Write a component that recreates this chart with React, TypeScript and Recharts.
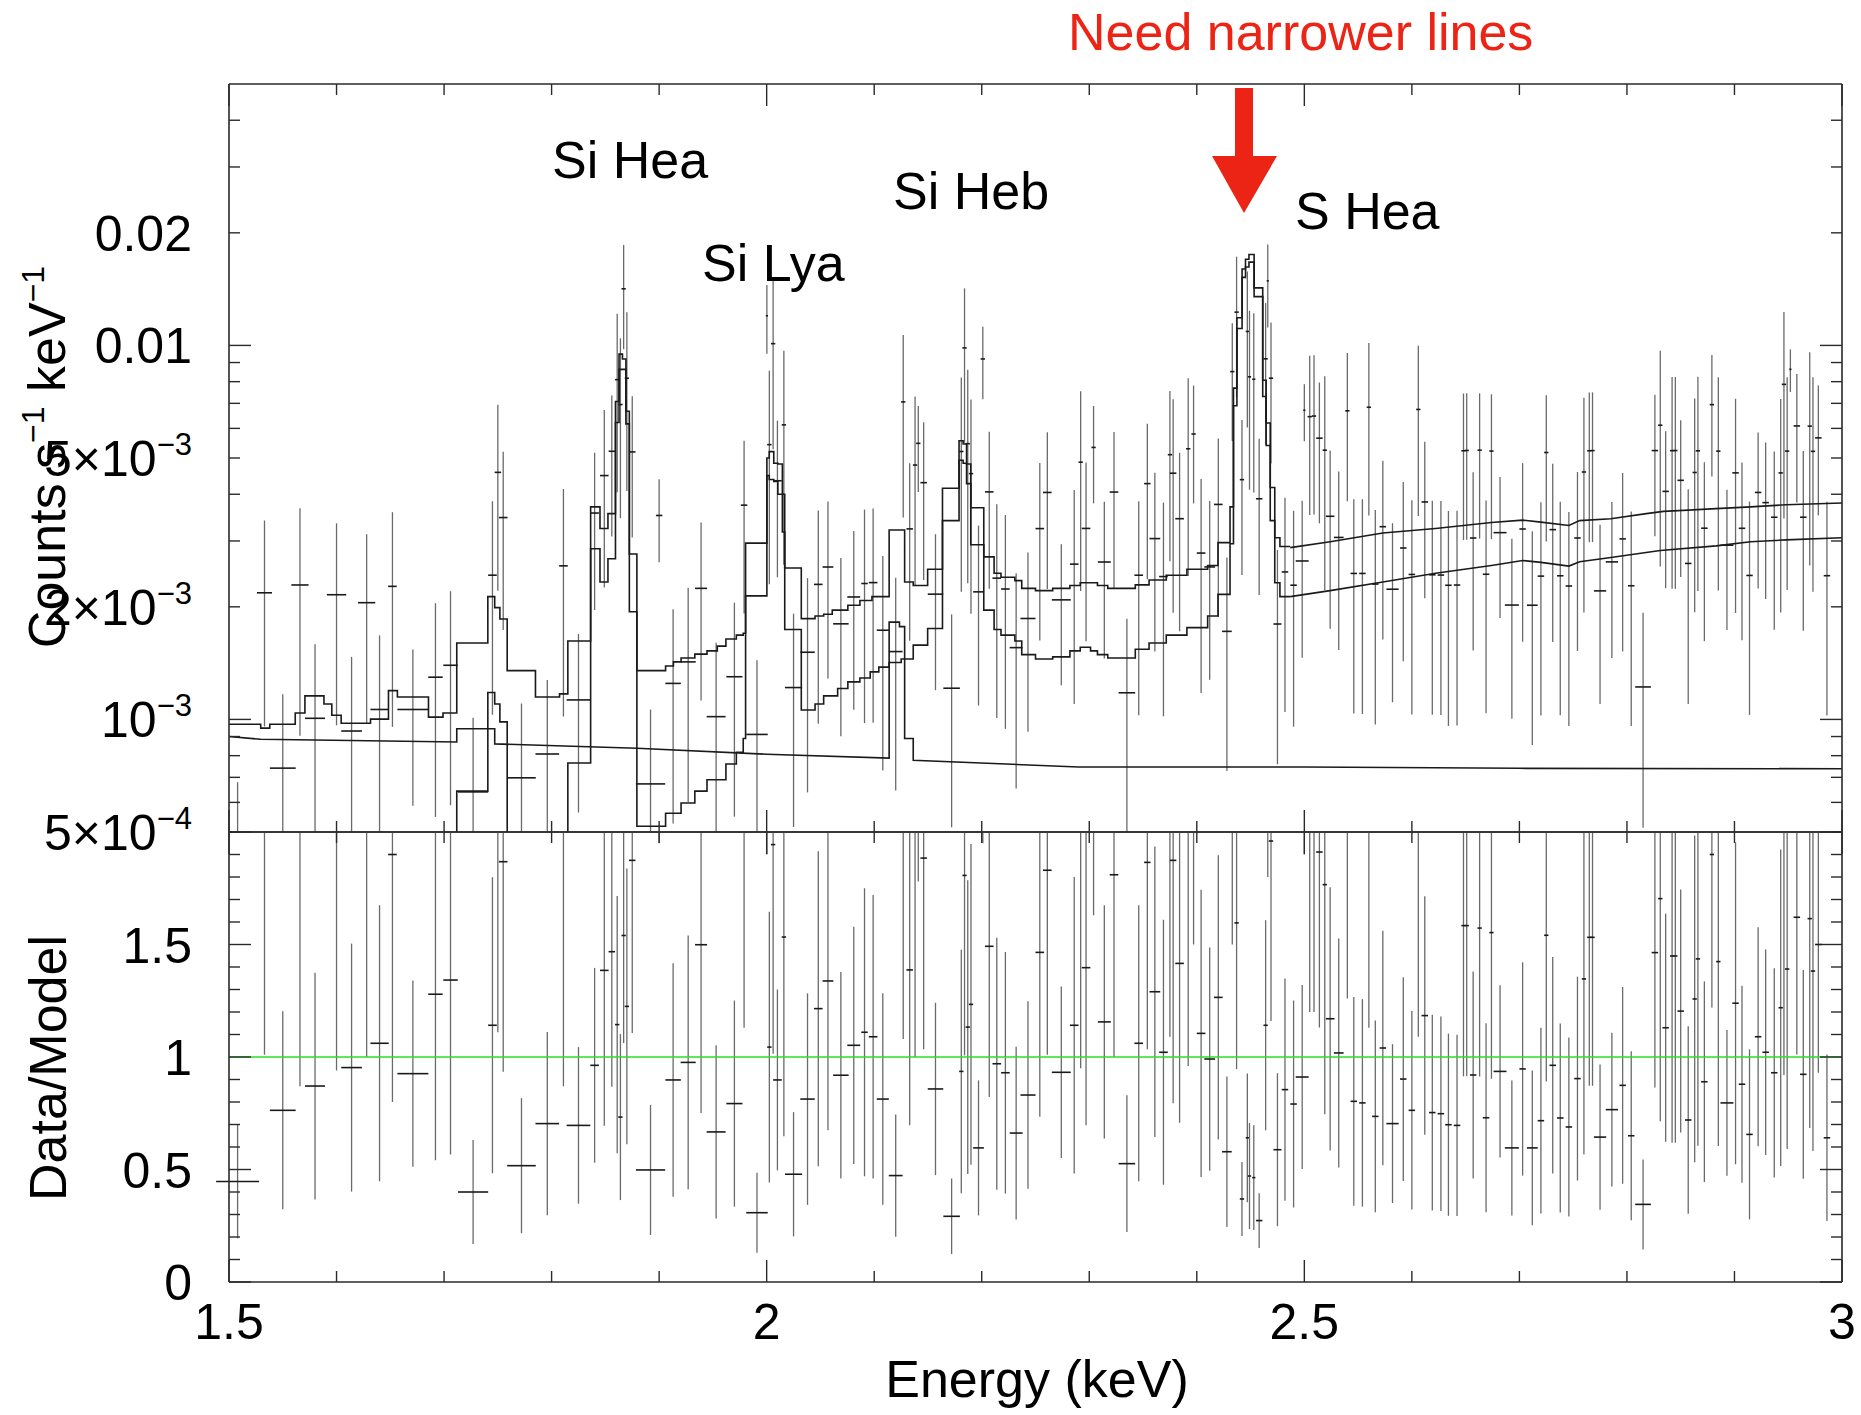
import React from "react";
import { ComposedChart, Line, Scatter, ErrorBar, XAxis, YAxis, ReferenceLine } from "recharts";

// ---- model: total (step part, bin low edges) ----
const totalStepE = [1.5, 1.5295, 1.5379, 1.5616, 1.5706, 1.5883, 1.5956, 1.6043, 1.6316, 1.6483, 1.6566, 1.6855, 1.699, 1.7118, 1.7407, 1.7471, 1.7519, 1.7587, 1.785, 1.8074, 1.8151, 1.8363, 1.845, 1.8524, 1.8594, 1.8627, 1.8659, 1.8691, 1.8723, 1.8793, 1.906, 1.9133, 1.9204, 1.9332, 1.9445, 1.9541, 1.9621, 1.9718, 1.9782, 1.9804, 2.0002, 2.0024, 2.0066, 2.0104, 2.0146, 2.0168, 2.0322, 2.045, 2.053, 2.061, 2.0755, 2.0867, 2.0979, 2.1139, 2.1283, 2.1363, 2.1497, 2.1635, 2.1789, 2.1827, 2.1859, 2.1898, 2.2019, 2.2115, 2.2179, 2.2308, 2.2372, 2.25, 2.266, 2.282, 2.2916, 2.3076, 2.3172, 2.3428, 2.3556, 2.3716, 2.3908, 2.4101, 2.4197, 2.4309, 2.4341, 2.4373, 2.4421, 2.4453, 2.4485, 2.4533, 2.4613, 2.4645, 2.4683, 2.4725, 2.4773];
const totalStepV = [9.71e-4, 9.48e-4, 9.71e-4, 1.04e-3, 1.156e-3, 1.1e-3, 1.026e-3, 9.77e-4, 1.002e-3, 1.194e-3, 1.148e-3, 1.014e-3, 1.04e-3, 1.6e-3, 2.13e-3, 1.99e-3, 1.855e-3, 1.35e-3, 1.148e-3, 1.17e-3, 1.62e-3, 3.7e-3, 3.24e-3, 3.55e-3, 7.08e-3, 9.48e-3, 9.2e-3, 6.67e-3, 2.77e-3, 1.35e-3, 1.39e-3, 1.425e-3, 1.46e-3, 1.495e-3, 1.525e-3, 1.57e-3, 1.64e-3, 1.68e-3, 1.7e-3, 2.96e-3, 5.0e-3, 5.2e-3, 4.84e-3, 4.82e-3, 4.0e-3, 2.54e-3, 1.86e-3, 1.89e-3, 1.91e-3, 1.96e-3, 2.02e-3, 2.08e-3, 2.13e-3, 3.21e-3, 2.33e-3, 2.28e-3, 2.52e-3, 4.15e-3, 5.56e-3, 5.45e-3, 4.82e-3, 3.68e-3, 2.72e-3, 2.46e-3, 2.4e-3, 2.35e-3, 2.24e-3, 2.21e-3, 2.24e-3, 2.28e-3, 2.32e-3, 2.28e-3, 2.24e-3, 2.29e-3, 2.36e-3, 2.43e-3, 2.52e-3, 2.58e-3, 2.97e-3, 3.7e-3, 7.69e-3, 0.01186, 0.016, 0.017, 0.0175, 0.01425, 8.07e-3, 6.2e-3, 4.17e-3, 3.06e-3, 2.9e-3];
// total, smooth tail above 2.49 keV
const totalTailE = [2.4869, 2.524, 2.573, 2.622, 2.674, 2.703, 2.72, 2.746, 2.756, 2.785, 2.818, 2.834, 2.883, 2.915, 2.948, 3.0];
const totalTailV = [2.88e-3, 2.985e-3, 3.15e-3, 3.24e-3, 3.36e-3, 3.41e-3, 3.37e-3, 3.3e-3, 3.4e-3, 3.44e-3, 3.55e-3, 3.6e-3, 3.66e-3, 3.7e-3, 3.75e-3, 3.79e-3];

// ---- line-rich component ----
const lineStepE = [1.5, 1.7118, 1.7407, 1.7471, 1.7519, 1.7587, 1.785, 1.8151, 1.8363, 1.845, 1.8524, 1.8594, 1.8627, 1.8659, 1.8691, 1.8723, 1.8793, 1.906, 1.9204, 1.9332, 1.9445, 1.9621, 1.9718, 1.9782, 1.9804, 2.0002, 2.0024, 2.0066, 2.0104, 2.0146, 2.0168, 2.0322, 2.045, 2.053, 2.066, 2.0755, 2.0867, 2.0963, 2.1043, 2.1139, 2.1251, 2.1363, 2.1497, 2.1635, 2.1789, 2.1827, 2.1859, 2.1898, 2.2019, 2.2115, 2.2179, 2.2308, 2.2372, 2.25, 2.266, 2.282, 2.2916, 2.3012, 2.3076, 2.3172, 2.3428, 2.3556, 2.3716, 2.3908, 2.4101, 2.4197, 2.4309, 2.4341, 2.4373, 2.4421, 2.4453, 2.4485, 2.4533, 2.4613, 2.4645, 2.4683, 2.4725, 2.4773];
const lineStepV = [1e-4, 6.43e-4, 1.18e-3, 1.1e-3, 9.85e-4, 4.8e-4, 3e-4, 7.65e-4, 2.86e-3, 2.33e-3, 2.69e-3, 6.22e-3, 8.63e-3, 8.63e-3, 6.17e-3, 1.94e-3, 5.18e-4, 5.61e-4, 5.98e-4, 6.43e-4, 6.9e-4, 7.6e-4, 8.17e-4, 8.89e-4, 2.14e-3, 4.49e-3, 4.38e-3, 4.33e-3, 4.0e-3, 3.17e-3, 1.74e-3, 1.06e-3, 1.1e-3, 1.156e-3, 1.21e-3, 1.26e-3, 1.29e-3, 1.34e-3, 1.38e-3, 1.42e-3, 1.45e-3, 1.58e-3, 1.75e-3, 3.4e-3, 4.93e-3, 4.84e-3, 4.27e-3, 2.93e-3, 1.96e-3, 1.74e-3, 1.68e-3, 1.62e-3, 1.49e-3, 1.45e-3, 1.47e-3, 1.525e-3, 1.56e-3, 1.525e-3, 1.49e-3, 1.46e-3, 1.54e-3, 1.6e-3, 1.68e-3, 1.76e-3, 1.89e-3, 2.16e-3, 2.95e-3, 6.9e-3, 0.0111, 0.0152, 0.0162, 0.0167, 0.0135, 7.3e-3, 5.4e-3, 3.4e-3, 2.32e-3, 2.13e-3];
const lineTailE = [2.4869, 2.524, 2.573, 2.622, 2.674, 2.703, 2.72, 2.746, 2.756, 2.785, 2.831, 2.883, 2.915, 2.948, 3.0];
const lineTailV = [2.13e-3, 2.21e-3, 2.33e-3, 2.46e-3, 2.58e-3, 2.66e-3, 2.63e-3, 2.57e-3, 2.64e-3, 2.71e-3, 2.83e-3, 2.91e-3, 2.985e-3, 3.02e-3, 3.06e-3];

// ---- continuum component ----
const contE = [1.5, 1.5295, 1.7118, 1.7118, 1.7471, 1.7471, 1.8793, 2.0, 2.1139, 2.1139, 2.1235, 2.1235, 2.1283, 2.1283, 2.1363, 2.1363, 2.29, 2.5, 2.7, 3.0];
const contV = [9.0e-4, 8.85e-4, 8.7e-4, 9.44e-4, 9.44e-4, 8.6e-4, 8.37e-4, 8.07e-4, 7.88e-4, 1.82e-3, 1.82e-3, 1.77e-3, 1.77e-3, 8.89e-4, 8.89e-4, 7.78e-4, 7.46e-4, 7.46e-4, 7.4e-4, 7.38e-4];

// ---- data bins: centre energy, half width, data/model ratio, 1 sigma ----
const ptE = [
  1.508, 1.533, 1.55, 1.566, 1.58, 1.6, 1.614, 1.628, 1.64, 1.652, 1.671, 1.692, 1.706, 1.727, 1.745, 1.75, 1.755, 1.772, 1.796, 1.811, 1.825, 1.84, 1.849, 1.856, 1.861, 1.864, 1.867, 1.87, 1.875, 1.892, 1.9, 1.913, 1.927, 1.939, 1.953, 1.97, 1.979, 1.991,
  2.0002, 2.0025, 2.006, 2.01, 2.016, 2.025, 2.038, 2.048, 2.057, 2.069, 2.081, 2.091, 2.099, 2.108, 2.12, 2.127, 2.133, 2.138, 2.141, 2.146, 2.157, 2.172, 2.181, 2.184, 2.187, 2.19, 2.197, 2.201, 2.207, 2.214, 2.222, 2.232, 2.243, 2.254, 2.261, 2.274, 2.286, 2.292, 2.297, 2.304, 2.314, 2.323, 2.335, 2.346, 2.354, 2.361, 2.369, 2.375, 2.378, 2.384, 2.392, 2.397, 2.404, 2.412, 2.42, 2.428, 2.433, 2.437, 2.442, 2.447, 2.449, 2.453, 2.458, 2.464, 2.466, 2.469, 2.475, 2.482, 2.49,
  2.498, 2.5, 2.505, 2.509, 2.514, 2.519, 2.524, 2.532, 2.54, 2.546, 2.554, 2.56, 2.566, 2.573, 2.582, 2.592, 2.6, 2.606, 2.612, 2.619, 2.627, 2.634, 2.642, 2.648, 2.651, 2.657, 2.663, 2.669, 2.674, 2.682, 2.693, 2.703, 2.712, 2.72, 2.725, 2.731, 2.738, 2.746, 2.754, 2.76, 2.765, 2.768, 2.775, 2.786, 2.796, 2.804, 2.815, 2.826, 2.831, 2.836, 2.842, 2.845, 2.85, 2.857, 2.863, 2.866, 2.872, 2.879, 2.885, 2.893, 2.901, 2.907, 2.914, 2.922, 2.929, 2.937, 2.943, 2.946, 2.949, 2.952, 2.958, 2.964, 2.97, 2.973, 2.978, 2.986,
];
const ptHw = [
  0.02, 0.007, 0.012, 0.008, 0.0093, 0.009, 0.0096, 0.008, 0.0085, 0.004, 0.0144, 0.0067, 0.0067, 0.014, 0.004, 0.003, 0.004, 0.0133, 0.011, 0.004, 0.011, 0.004, 0.004, 0.003, 0.002, 0.002, 0.002, 0.002, 0.003, 0.0136, 0.003, 0.0072, 0.007, 0.0056, 0.0088, 0.0075, 0.003, 0.01,
  0.001, 0.002, 0.002, 0.004, 0.002, 0.008, 0.0067, 0.004, 0.005, 0.0072, 0.006, 0.003, 0.004, 0.0056, 0.0064, 0.002, 0.003, 0.002, 0.002, 0.003, 0.0072, 0.0077, 0.002, 0.002, 0.002, 0.002, 0.005, 0.002, 0.004, 0.004, 0.004, 0.006, 0.007, 0.004, 0.004, 0.0088, 0.004, 0.002, 0.004, 0.002, 0.006, 0.004, 0.0077, 0.004, 0.003, 0.005, 0.004, 0.002, 0.003, 0.004, 0.002, 0.002, 0.004, 0.005, 0.004, 0.0045, 0.002, 0.002, 0.002, 0.0015, 0.0015, 0.0015, 0.003, 0.002, 0.001, 0.002, 0.0037, 0.003, 0.003,
  0.006, 0.001, 0.002, 0.002, 0.003, 0.002, 0.004, 0.0045, 0.002, 0.003, 0.003, 0.002, 0.003, 0.003, 0.0057, 0.003, 0.003, 0.002, 0.003, 0.003, 0.003, 0.003, 0.003, 0.002, 0.002, 0.003, 0.002, 0.003, 0.002, 0.006, 0.0065, 0.003, 0.005, 0.003, 0.002, 0.003, 0.003, 0.003, 0.003, 0.002, 0.002, 0.002, 0.0057, 0.0057, 0.003, 0.003, 0.0073, 0.003, 0.002, 0.003, 0.002, 0.002, 0.003, 0.003, 0.002, 0.002, 0.003, 0.002, 0.002, 0.006, 0.003, 0.003, 0.003, 0.003, 0.003, 0.003, 0.002, 0.002, 0.002, 0.001, 0.003, 0.003, 0.002, 0.002, 0.003, 0.003,
];
const ptRatio = [
  0.447, 2.3, 0.763, 2.2, 0.871, 2.1, 0.953, 2.1, 1.061, 1.9, 0.926, 1.279, 1.342, 0.4, 1.141, 2.3, 1.868, 0.517, 0.704, 2.2, 0.696, 0.963, 1.385, 1.468, 1.144, 0.733, 1.54, 1.225, 1.874, 0.498, 2.6, 0.898, 0.976, 1.499, 0.667, 0.793, 2.2, 0.308,
  2.4, 1.044, 1.944, 0.898, 1.533, 0.479, 0.813, 1.215, 1.338, 0.919, 1.052, 1.11, 1.09, 0.813, 0.473, 2.2, 1.387, 2.1, 2.4, 1.884, 0.858, 0.292, 0.936, 1.807, 1.133, 1.234, 0.596, 2.5, 1.492, 0.97, 0.93, 0.662, 0.831, 1.465, 1.83, 0.932, 1.141, 2.1, 1.397, 2.3, 1.156, 1.81, 0.526, 1.061, 1.865, 1.29, 1.021, 2.1, 1.874, 1.416, 2.1, 2.3, 1.105, 0.991, 1.265, 0.579, 2.3, 1.596, 0.369, 0.641, 0.471, 0.464, 0.273, 1.141, 2.4, 1.96, 0.588, 0.855, 0.791,
  0.911, 2.3, 2.2, 2.2, 1.911, 1.766, 1.17, 1.018, 2.2, 0.803, 0.796, 2.2, 0.736, 1.04, 0.704, 0.902, 0.763, 2.1, 1.184, 0.753, 0.748, 0.699, 0.696, 1.584, 1.584, 0.92, 1.573, 0.73, 1.553, 0.936, 0.596, 0.947, 0.596, 0.717, 1.541, 0.963, 0.729, 0.689, 0.904, 1.347, 1.532, 1.532, 0.644, 0.766, 0.874, 0.65, 0.345, 1.464, 1.704, 1.13, 1.449, 1.449, 1.204, 0.72, 1.258, 1.436, 0.89, 1.9, 1.424, 0.796, 1.239, 0.879, 0.656, 1.09, 1.021, 0.93, 1.219, 2.1, 1.391, 2.3, 1.621, 0.923, 1.615, 1.382, 1.5, 0.641,
];
const ptErr = [
  0.253, 1.29, 0.44, 1.33, 0.504, 1.16, 0.551, 1.1, 0.613, 1.1, 0.414, 0.738, 0.775, 0.231, 0.658, 1.19, 0.933, 0.3, 0.407, 1.33, 0.348, 0.433, 0.69, 0.6, 0.572, 0.369, 0.478, 0.613, 0.767, 0.289, 0.65, 0.519, 0.564, 0.748, 0.385, 0.458, 1.07, 0.178,
  0.5, 0.602, 0.93, 0.402, 0.885, 0.276, 0.47, 0.7, 0.664, 0.459, 0.527, 0.64, 0.63, 0.47, 0.272, 1.12, 0.69, 1.1, 0.62, 0.85, 0.383, 0.168, 0.541, 0.8, 0.653, 0.713, 0.3, 0.55, 0.67, 0.56, 0.537, 0.384, 0.417, 0.73, 0.82, 0.381, 0.659, 1.15, 0.7, 0.67, 0.518, 0.81, 0.304, 0.613, 0.83, 0.646, 0.589, 1.01, 1.08, 0.708, 1.14, 0.8, 0.638, 0.496, 0.632, 0.334, 0.8, 0.65, 0.164, 0.286, 0.236, 0.233, 0.122, 0.467, 0.6, 0.8, 0.34, 0.494, 0.46,
  0.409, 0.4, 1.0, 1.0, 0.78, 1.02, 0.585, 0.509, 0.94, 0.464, 0.461, 1.07, 0.426, 0.521, 0.353, 0.453, 0.441, 1.01, 0.53, 0.435, 0.432, 0.405, 0.403, 0.67, 0.67, 0.46, 0.66, 0.42, 0.65, 0.383, 0.3, 0.474, 0.344, 0.413, 0.65, 0.481, 0.42, 0.398, 0.453, 0.78, 0.66, 0.66, 0.323, 0.342, 0.437, 0.376, 0.2, 0.6, 0.99, 0.507, 0.83, 0.83, 0.54, 0.417, 0.726, 0.83, 0.446, 0.68, 0.82, 0.324, 0.716, 0.438, 0.378, 0.487, 0.457, 0.465, 0.703, 1.18, 0.8, 0.3, 0.61, 0.464, 0.93, 0.8, 0.57, 0.37,
];

// ---- axes ----
const xTicks = [1.5, 1.6, 1.7, 1.8, 1.9, 2.0, 2.1, 2.2, 2.3, 2.4, 2.5, 2.6, 2.7, 2.8, 2.9, 3.0];
const xMajor = [1.5, 2, 2.5, 3];
const yTicksTop = [5e-4, 6e-4, 7e-4, 8e-4, 9e-4, 1e-3, 2e-3, 3e-3, 4e-3, 5e-3, 6e-3, 7e-3, 8e-3, 9e-3, 0.01, 0.02, 0.03, 0.04];
const yMajorTop = [1e-3, 0.01];
const topTickLabels = [
  { v: 0.02, main: "0.02", exp: "" },
  { v: 0.01, main: "0.01", exp: "" },
  { v: 5e-3, main: "5×10", exp: "−3" },
  { v: 2e-3, main: "2×10", exp: "−3" },
  { v: 1e-3, main: "10", exp: "−3" },
  { v: 5e-4, main: "5×10", exp: "−4" },
];
const yTicksBot = [0, 0.1, 0.2, 0.3, 0.4, 0.5, 0.6, 0.7, 0.8, 0.9, 1, 1.1, 1.2, 1.3, 1.4, 1.5, 1.6, 1.7, 1.8, 1.9, 2];
const yMajorBot = [0, 0.5, 1, 1.5, 2];
const botTickLabels = ["0", "0.5", "1", "1.5"];

const FONT = "'Liberation Sans', Arial, Helvetica, sans-serif";
const AX = "#2a2a2a";
const INK = "#1a1a1a";
const FS = 50;
const TOP_DOM = [5e-4, 0.05];
const BOT_DOM = [0, 2];

const near = (arr: number[], v: number) => arr.some((a) => Math.abs(a - v) < 1e-9);

function stepRows(es: number[], vs: number[], endE: number) {
  const rows = es.map((e, i) => ({ e, v: vs[i] }));
  rows.push({ e: endE, v: vs[vs.length - 1] });
  return rows;
}
const pairRows = (es: number[], vs: number[]) => es.map((e, i) => ({ e, v: vs[i] }));

function totalAt(e: number) {
  if (e >= totalTailE[0]) {
    for (let i = 1; i < totalTailE.length; i++) {
      if (e <= totalTailE[i]) {
        const t = (e - totalTailE[i - 1]) / (totalTailE[i] - totalTailE[i - 1]);
        return totalTailV[i - 1] + t * (totalTailV[i] - totalTailV[i - 1]);
      }
    }
    return totalTailV[totalTailV.length - 1];
  }
  let v = totalStepV[0];
  totalStepE.forEach((s, i) => {
    if (s <= e) v = totalStepV[i];
  });
  return v;
}

// a cross kept inside the panel: the centre is pinned to the frame when it falls outside
function crossRow(e: number, v: number, s: number, hw: number, dom: number[]) {
  const inside = v >= dom[0] && v <= dom[1];
  const c = Math.min(Math.max(v, dom[0]), dom[1]);
  const lo = Math.max(v - s, dom[0]);
  const hi = Math.min(v + s, dom[1]);
  return { e, v: c, ex: inside ? hw : 0, ey: [Math.max(0, c - lo), Math.max(0, hi - c)] };
}

const totalStepRows = stepRows(totalStepE, totalStepV, totalTailE[0]);
const totalTailRows = pairRows(totalTailE, totalTailV);
const lineStepRows = stepRows(lineStepE, lineStepV, lineTailE[0]);
const lineTailRows = pairRows(lineTailE, lineTailV);
const contRows = pairRows(contE, contV);

const specRows = ptE.map((e, i) => {
  const m = totalAt(e);
  return crossRow(e, ptRatio[i] * m, ptErr[i] * m, ptHw[i], TOP_DOM);
});
const ratioRows = ptE.map((e, i) => crossRow(e, ptRatio[i], ptErr[i], ptHw[i], BOT_DOM));

const makeXTick = (dir: number, withLabel: boolean) => (props: any) => {
  const { x, y, payload } = props;
  const major = near(xMajor, payload.value);
  return (
    <g>
      <line x1={x} x2={x} y1={y} y2={y + dir * (major ? 22 : 11)} stroke={AX} strokeWidth={1.4} />
      {withLabel && major ? (
        <text x={x} y={y + 57} textAnchor="middle" fontSize={FS} fontFamily={FONT} fill="#000">
          {String(payload.value)}
        </text>
      ) : null}
    </g>
  );
};

const makeYTickTop = (dir: number, withLabel: boolean) => (props: any) => {
  const { x, y, payload } = props;
  const major = near(yMajorTop, payload.value);
  const lab = withLabel ? topTickLabels.find((l) => Math.abs(l.v - payload.value) < 1e-12) : undefined;
  return (
    <g>
      <line x1={x} x2={x + dir * (major ? 22 : 11)} y1={y} y2={y} stroke={AX} strokeWidth={1.4} />
      {lab ? (
        <text x={x - 37} y={y + 18} textAnchor="end" fontSize={FS} fontFamily={FONT} fill="#000">
          {lab.main}
          {lab.exp ? (
            <tspan fontSize={31} dy={-21}>
              {lab.exp}
            </tspan>
          ) : null}
        </text>
      ) : null}
    </g>
  );
};

const makeYTickBot = (dir: number, withLabel: boolean) => (props: any) => {
  const { x, y, payload } = props;
  const major = near(yMajorBot, payload.value);
  const idx = [0, 0.5, 1, 1.5].findIndex((v) => Math.abs(v - payload.value) < 1e-9);
  return (
    <g>
      <line x1={x} x2={x + dir * (major ? 22 : 11)} y1={y} y2={y} stroke={AX} strokeWidth={1.4} />
      {withLabel && idx >= 0 ? (
        <text x={x - 37} y={y + 18} textAnchor="end" fontSize={FS} fontFamily={FONT} fill="#000">
          {botTickLabels[idx]}
        </text>
      ) : null}
    </g>
  );
};

const noShape = () => <g />;
const axLine = { stroke: AX, strokeWidth: 1.6 };

function SpectrumPanel() {
  return (
    <ComposedChart width={1861} height={880} margin={{ top: 83, right: 18, bottom: 47, left: 0 }}>
      <XAxis xAxisId={0} dataKey="e" type="number" domain={[1.5, 3]} allowDataOverflow ticks={xTicks} interval={0}
        height={1} tickSize={0} tickMargin={0} tickLine={false} axisLine={axLine} tick={makeXTick(-1, false)} />
      <XAxis xAxisId="top" orientation="top" dataKey="e" type="number" domain={[1.5, 3]} allowDataOverflow ticks={xTicks}
        interval={0} height={1} tickSize={0} tickMargin={0} tickLine={false} axisLine={axLine} tick={makeXTick(1, false)} />
      <YAxis yAxisId={0} type="number" scale="log" domain={TOP_DOM} allowDataOverflow ticks={yTicksTop} interval={0}
        width={229} tickSize={0} tickMargin={0} tickLine={false} axisLine={axLine} tick={makeYTickTop(1, true)} />
      <YAxis yAxisId="right" orientation="right" type="number" scale="log" domain={TOP_DOM} allowDataOverflow
        ticks={yTicksTop} interval={0} width={1} tickSize={0} tickMargin={0} tickLine={false} axisLine={axLine}
        tick={makeYTickTop(-1, false)} />
      <Scatter data={specRows} dataKey="v" shape={noShape} isAnimationActive={false}>
        <ErrorBar dataKey="ey" direction="y" width={0} stroke="#6a6a6a" strokeWidth={1.3} isAnimationActive={false} />
        <ErrorBar dataKey="ex" direction="x" width={0} stroke={INK} strokeWidth={1.6} isAnimationActive={false} />
      </Scatter>
      <Line data={contRows} dataKey="v" type="linear" stroke={INK} strokeWidth={1.6} dot={false} activeDot={false} isAnimationActive={false} />
      <Line data={lineStepRows} dataKey="v" type="stepAfter" stroke={INK} strokeWidth={1.6} dot={false} activeDot={false} isAnimationActive={false} />
      <Line data={lineTailRows} dataKey="v" type="linear" stroke={INK} strokeWidth={1.6} dot={false} activeDot={false} isAnimationActive={false} />
      <Line data={totalStepRows} dataKey="v" type="stepAfter" stroke={INK} strokeWidth={1.6} dot={false} activeDot={false} isAnimationActive={false} />
      <Line data={totalTailRows} dataKey="v" type="linear" stroke={INK} strokeWidth={1.6} dot={false} activeDot={false} isAnimationActive={false} />
    </ComposedChart>
  );
}

function RatioPanel() {
  return (
    <ComposedChart width={1861} height={591} margin={{ top: 7, right: 18, bottom: 132, left: 0 }}>
      <XAxis xAxisId={0} dataKey="e" type="number" domain={[1.5, 3]} allowDataOverflow ticks={xTicks} interval={0}
        height={1} tickSize={0} tickMargin={0} tickLine={false} axisLine={axLine} tick={makeXTick(-1, true)} />
      <XAxis xAxisId="top" orientation="top" dataKey="e" type="number" domain={[1.5, 3]} allowDataOverflow ticks={xTicks}
        interval={0} height={1} tickSize={0} tickMargin={0} tickLine={false} axisLine={axLine} tick={makeXTick(1, false)} />
      <YAxis yAxisId={0} type="number" domain={BOT_DOM} allowDataOverflow ticks={yTicksBot} interval={0}
        width={229} tickSize={0} tickMargin={0} tickLine={false} axisLine={axLine} tick={makeYTickBot(1, true)} />
      <YAxis yAxisId="right" orientation="right" type="number" domain={BOT_DOM} allowDataOverflow ticks={yTicksBot}
        interval={0} width={1} tickSize={0} tickMargin={0} tickLine={false} axisLine={axLine} tick={makeYTickBot(-1, false)} />
      <Scatter data={ratioRows} dataKey="v" shape={noShape} isAnimationActive={false}>
        <ErrorBar dataKey="ey" direction="y" width={0} stroke="#6a6a6a" strokeWidth={1.3} isAnimationActive={false} />
        <ErrorBar dataKey="ex" direction="x" width={0} stroke={INK} strokeWidth={1.6} isAnimationActive={false} />
      </Scatter>
      <ReferenceLine y={1} stroke="#27e027" strokeWidth={1.4} />
    </ComposedChart>
  );
}

function Annotations() {
  const t = { fontFamily: FONT, fontSize: 52, fill: "#000" } as const;
  return (
    <svg width={1861} height={1415} style={{ position: "absolute", left: 0, top: 0, pointerEvents: "none" }}>
      <text x={1068} y={50} {...t} fill="#ec2415">Need narrower lines</text>
      <rect x={1235} y={88} width={18} height={69} fill="#ec2415" />
      <polygon points="1212,156 1277,156 1244,213" fill="#ec2415" />
      <text x={552} y={178} {...t}>Si Hea</text>
      <text x={702} y={281} {...t}>Si Lya</text>
      <text x={893} y={209} {...t}>Si Heb</text>
      <text x={1295} y={229} {...t}>S Hea</text>
      <text x={1037} y={1397} {...t} textAnchor="middle">Energy (keV)</text>
      <text transform="translate(65,457) rotate(-90)" {...t} textAnchor="middle">
        Counts s<tspan fontSize={32} dy={-21}>−1</tspan>
        <tspan dy={21}> keV</tspan>
        <tspan fontSize={32} dy={-21}>−1</tspan>
      </text>
      <text transform="translate(66,1068) rotate(-90)" {...t} textAnchor="middle">Data/Model</text>
    </svg>
  );
}

export default function App() {
  return (
    <div style={{ position: "absolute", left: 0, top: 0, width: 1861, height: 1415, background: "#fff", fontFamily: FONT }}>
      <div style={{ position: "absolute", left: 0, top: 0 }}>
        <SpectrumPanel />
      </div>
      <div style={{ position: "absolute", left: 0, top: 824 }}>
        <RatioPanel />
      </div>
      <Annotations />
    </div>
  );
}
